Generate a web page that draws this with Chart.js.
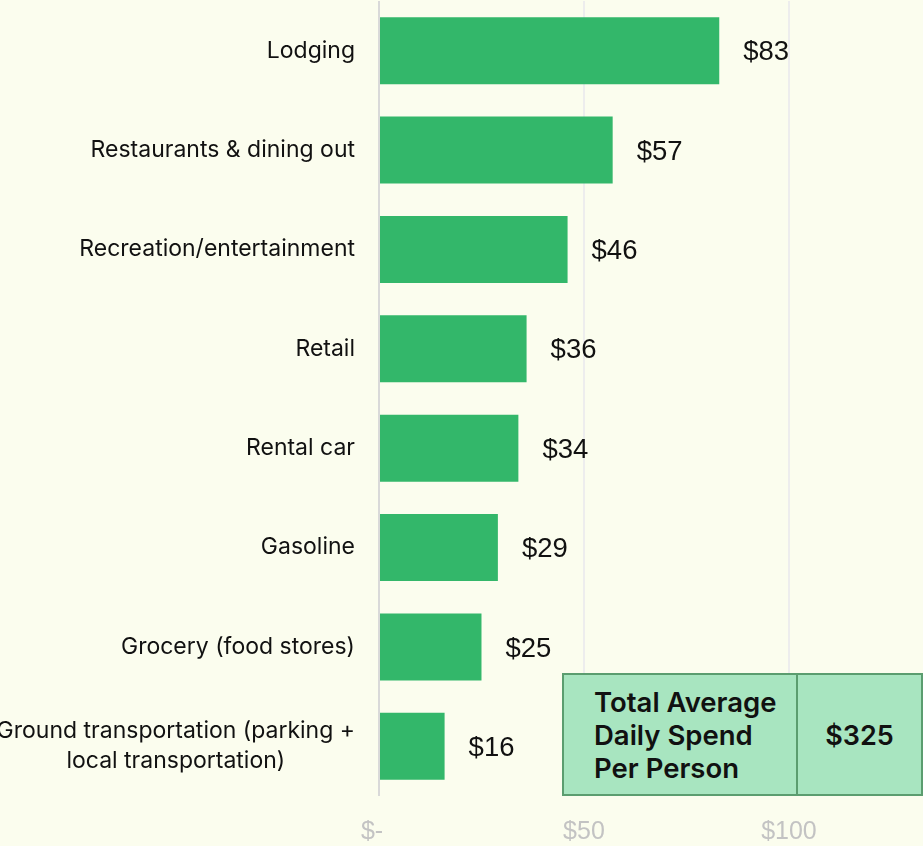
<!DOCTYPE html>
<html>
<head>
<meta charset="utf-8">
<script src="https://cdn.jsdelivr.net/npm/chart.js@4/dist/chart.umd.min.js"></script>
<style>
  html, body { margin: 0; padding: 0; background: #fbfdee; }
  #wrap { position: relative; width: 923px; height: 846px; overflow: hidden; }
  #chart { position: absolute; left: 0; top: 0; }
  #total {
    position: absolute; left: 562px; top: 673px; width: 361px; height: 123px;
    box-sizing: border-box; border: 2px solid #5b9d6f; background: #a8e5c0;
    font-family: Inter, "Noto Sans", sans-serif; font-weight: 600; color: #111;
  }
  #total .divider { position: absolute; left: 232px; top: 0; bottom: 0; width: 2px; background: #5b9d6f; }
  #total .label {
    position: absolute; left: 30px; top: 0; bottom: 0; width: 202px;
    display: flex; flex-direction: column; justify-content: center;
    font-size: 27.5px; line-height: 33px; padding-top: 1px; white-space: nowrap;
  }
  #total .value {
    position: absolute; left: 234px; right: 0; top: 0; bottom: 0;
    display: flex; align-items: center; justify-content: center;
    font-size: 27px; padding-top: 1px;
  }
</style>
</head>
<body>
<div id="wrap">
  <canvas id="chart" width="923" height="846"></canvas>
  <div id="total">
    <div class="label" id="totalLabel"></div>
    <div class="divider"></div>
    <div class="value" id="totalValue"></div>
  </div>
</div>
<script>
// Average daily spend per person, by category (USD)
const CATEGORIES = [
  ['Lodging'],
  ['Restaurants & dining out'],
  ['Recreation/entertainment'],
  ['Retail'],
  ['Rental car'],
  ['Gasoline'],
  ['Grocery (food stores)'],
  ['Ground transportation (parking +', 'local transportation)']
];
const SPEND = [83, 57, 46, 36, 34, 29, 25, 16];
const TICK_VALUES = [0, 50, 100];
const TICK_LABELS = ['$-  ', '$50', '$100'];
const TOTAL_LABEL = ['Total Average', 'Daily Spend', 'Per Person'];
const TOTAL_VALUE = '$325';

TOTAL_LABEL.forEach(line => {
  const d = document.createElement('div');
  d.textContent = line;
  document.getElementById('totalLabel').appendChild(d);
});
document.getElementById('totalValue').textContent = TOTAL_VALUE;

// Category names, right-aligned with wrapped lines centred on each other
const categoryLabels = {
  id: 'categoryLabels',
  afterDraw(chart) {
    const ctx = chart.ctx;
    const y = chart.scales.y;
    ctx.save();
    ctx.font = '23px Inter, "Noto Sans", sans-serif';
    ctx.fillStyle = '#111';
    ctx.textAlign = 'center';
    ctx.textBaseline = 'middle';
    const rightEdge = 355;
    const lineH = 30;
    chart.data.labels.forEach((lines, i) => {
      const yc = y.getPixelForValue(i);
      const maxW = Math.max(...lines.map(l => ctx.measureText(l).width));
      const cx = rightEdge - maxW / 2;
      lines.forEach((l, j) => {
        ctx.fillText(l, cx, yc + (j - (lines.length - 1) / 2) * lineH);
      });
    });
    ctx.restore();
  }
};

// Dollar value printed just past the end of each bar
const valueLabels = {
  id: 'valueLabels',
  afterDatasetsDraw(chart) {
    const ctx = chart.ctx;
    const meta = chart.getDatasetMeta(0);
    ctx.save();
    ctx.font = '27.5px "Liberation Sans", Arial, sans-serif';
    ctx.fillStyle = '#111';
    ctx.textAlign = 'left';
    ctx.textBaseline = 'middle';
    meta.data.forEach((bar, i) => {
      ctx.fillText('$' + chart.data.datasets[0].data[i], bar.x + 24, bar.y + 2);
    });
    ctx.restore();
  }
};

new Chart(document.getElementById('chart'), {
  type: 'bar',
  data: {
    labels: CATEGORIES,
    datasets: [{
      data: SPEND,
      backgroundColor: '#33b76a',
      borderWidth: 0,
      categoryPercentage: 1,
      barPercentage: 0.675
    }]
  },
  options: {
    indexAxis: 'y',
    responsive: false,
    animation: false,
    devicePixelRatio: 1,
    layout: { padding: { top: 1, right: 0, bottom: 0, left: 0 } },
    plugins: { legend: { display: false }, tooltip: { enabled: false } },
    scales: {
      x: {
        min: 0,
        max: 132.7,
        afterBuildTicks(scale) {
          scale.ticks = TICK_VALUES.map(v => ({ value: v }));
        },
        afterFit(scale) { scale.height = 50; },
        ticks: {
          autoSkip: false,
          maxRotation: 0,
          padding: 21,
          color: '#c3c3c3',
          font: { family: '"Liberation Sans", Arial, sans-serif', size: 25 },
          callback(value) {
            const k = TICK_VALUES.indexOf(value);
            return k >= 0 ? TICK_LABELS[k] : '';
          }
        },
        grid: {
          drawTicks: false,
          color: ctx => (ctx.tick && ctx.tick.value === 0 ? '#d9d9d9' : '#ededed'),
          lineWidth: 2
        },
        border: { display: false }
      },
      y: {
        afterFit(scale) { scale.width = 379; },
        ticks: { display: false },
        grid: { display: false },
        border: { display: false }
      }
    }
  },
  plugins: [categoryLabels, valueLabels]
});
</script>
</body>
</html>
